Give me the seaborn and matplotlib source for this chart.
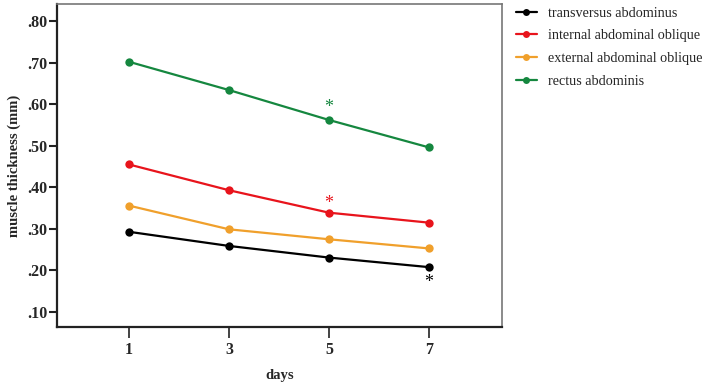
import matplotlib
matplotlib.use("Agg")
import matplotlib.pyplot as plt
import seaborn as sns
import pandas as pd

days = [1, 3, 5, 7]
series_names = ["transversus abdominus", "internal abdominal oblique",
                "external abdominal oblique", "rectus abdominis"]
transversus = [0.293, 0.259, 0.231, 0.208]
internal = [0.455, 0.393, 0.339, 0.315]
external = [0.356, 0.299, 0.275, 0.253]
rectus = [0.702, 0.634, 0.562, 0.496]
colors = ["#000000", "#e8141c", "#f0a02c", "#15873f"]
yticks = [0.10, 0.20, 0.30, 0.40, 0.50, 0.60, 0.70, 0.80]
ytick_labels = [".10", ".20", ".30", ".40", ".50", ".60", ".70", ".80"]
# significance markers: (series index, day, y position)
stars = [(0, 7, 0.172), (1, 5, 0.360), (3, 5, 0.592)]

rows = []
for name, vals in zip(series_names, [transversus, internal, external, rectus]):
    for d, v in zip(days, vals):
        rows.append({"days": d, "value": v, "series": name})
df = pd.DataFrame(rows)

sns.set_style("white")
plt.rcParams["font.family"] = ["Liberation Serif", "DejaVu Serif"]

fig = plt.figure(figsize=(7.08, 3.82), dpi=100)
ax = fig.add_axes([57/708, 1-327/382, (502-57)/708, (327-4)/382])

sns.lineplot(data=df, x="days", y="value", hue="series", hue_order=series_names,
             palette=colors, marker="o", markersize=6, markeredgewidth=0,
             linewidth=1.6, ax=ax)

for idx, d, y in stars:
    ax.text(d, y, "*", color=colors[idx], ha="center", va="center",
            fontsize=13)

ax.set_xlim(-0.44, 8.46)
ax.set_ylim(0.064, 0.841)
ax.set_xticks(days)
ax.set_xticklabels([str(d) for d in days], fontsize=11.5, fontweight="bold")
ax.set_yticks(yticks)
ax.set_yticklabels(ytick_labels, fontsize=11.5, fontweight="bold")
ax.tick_params(axis="y", left=True, direction="out", length=6, width=1.5, color="#222222", pad=1)
ax.tick_params(axis="x", bottom=True, direction="out", length=8, width=1.2, color="#222222", pad=3)
ax.set_xlabel("days", fontsize=10.5, fontweight="bold", labelpad=8)
ax.set_ylabel("muscle thickness (mm)", fontsize=10.5, fontweight="bold", labelpad=4)

for side in ["left", "bottom"]:
    ax.spines[side].set_color("#222222")
    ax.spines[side].set_linewidth(1.6)
for side in ["top", "right"]:
    ax.spines[side].set_color("#777777")
    ax.spines[side].set_linewidth(1.2)
    ax.spines[side].set_visible(True)

leg = ax.legend(loc="upper left", bbox_to_anchor=(510/708, 0.997), bbox_transform=fig.transFigure,
                frameon=False, fontsize=10.2, handlelength=1.5, handletextpad=0.8,
                labelspacing=0.68, borderaxespad=0.0)
for line in leg.get_lines():
    line.set_markersize(5)

fig.savefig("out.png", dpi=100)
